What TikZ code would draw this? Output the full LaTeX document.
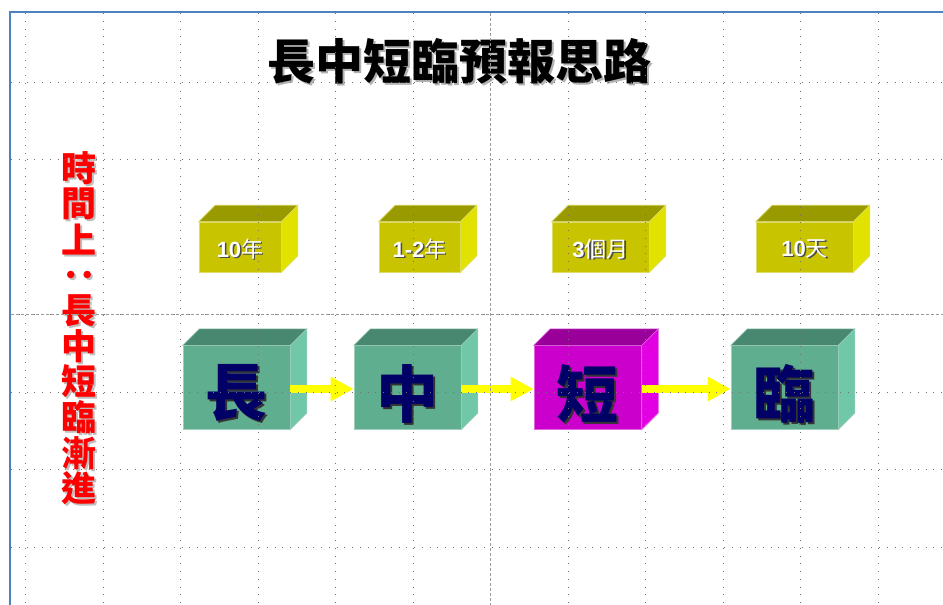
\documentclass[tikz,border=0pt]{standalone}
\usepackage{fontspec}
\setmainfont{Noto Sans CJK TC}
\newfontfamily\lat{Liberation Sans}
\usetikzlibrary{arrows.meta}
\definecolor{olivefront}{RGB}{200,196,0}
\definecolor{olivetop}{RGB}{153,153,0}
\definecolor{oliveside}{RGB}{226,226,0}
\definecolor{tealfront}{RGB}{96,174,144}
\definecolor{tealtop}{RGB}{72,135,112}
\definecolor{tealside}{RGB}{112,200,168}
\definecolor{magfront}{RGB}{204,0,204}
\definecolor{magtop}{RGB}{153,0,153}
\definecolor{magside}{RGB}{226,0,226}
\definecolor{navy}{RGB}{0,0,102}
\definecolor{frameblue}{RGB}{79,129,189}
\definecolor{arrowyellow}{RGB}{255,255,0}
\newcommand\shtext[3]{\leavevmode\rlap{\kern#1\raisebox{-#1}{\textcolor{#2}{#3}}}#3}
% style, name, cx, cy, w, h, colour prefix, text
\newcommand\cubebox[8]{%
  \node[cubefront, fill=#7front, draw=#7front!60!white, minimum width=#5pt, minimum height=#6pt] (#2) at (#3,#4) {};
  \fill[#7top, draw=#7front!60!white, line width=0.6pt] (#2.north west) -- ++(16.5,-16.5) -- ([shift={(16.5,-16.5)}]#2.north east) -- (#2.north east) -- cycle;
  \fill[#7side, draw=#7front!60!white, line width=0.6pt] (#2.north east) -- ++(16.5,-16.5) -- ([shift={(16.5,-16.5)}]#2.south east) -- (#2.south east) -- cycle;
  \node[#1] (#2t) at (#2) {#8};
}
\tikzset{
  cubefront/.style={rectangle, inner sep=0pt, line width=0.6pt},
  yarrow/.style={line width=8pt, arrowyellow, -{Triangle[length=23pt,width=23pt]}},
  gridv/.style={black!55, line width=0.9pt, dash pattern=on 0.9pt off 6.85pt},
  gridh/.style={black!55, line width=0.9pt, dash pattern=on 0.9pt off 6.85pt},
  guide/.style={black!40, line width=0.8pt, dash pattern=on 3pt off 2pt},
  smalllabel/.style={text=white, font=\fontsize{22}{22}\selectfont, yshift=-2.5pt},
  bigchar/.style={text=navy, font=\fontsize{62}{62}\selectfont\bfseries, yshift=-7pt},
  sidechar/.style={text=red, font=\fontsize{35}{35}\selectfont\bfseries, inner sep=0pt},
}
\begin{document}
\begin{tikzpicture}[x=1pt,y=-1pt]
\useasboundingbox (0,0) rectangle (943,605);
\fill[white] (0,0) rectangle (943,605);

% title
\node[font=\fontsize{48}{48}\selectfont\bfseries] (title) at (459,62) {\shtext{2pt}{black!30}{長中短臨預報思路}};

% vertical red text
\foreach \c [count=\i from 0] in {時,間,上,{\rotatebox{-90}{：}},長,中,短,臨,漸,進}{
  \node[sidechar] (v\i) at (79,{169+35.6*\i}) {\shtext{2pt}{black!25}{\c}};
}

% small cubes
\cubebox{smalllabel}{s1}{240}{247}{82}{50}{olive}{\shtext{1.5pt}{black!70}{{\lat\bfseries 10}年}}
\cubebox{smalllabel}{s2}{419.5}{247}{81}{50}{olive}{\shtext{1.5pt}{black!70}{{\lat\bfseries 1-2}年}}
\cubebox{smalllabel}{s3}{600.5}{247}{97}{50}{olive}{\shtext{1.5pt}{black!70}{{\lat\bfseries 3}個月}}
\cubebox{smalllabel}{s4}{804.5}{247}{97}{50}{olive}{\shtext{1.5pt}{black!70}{{\lat\bfseries 10}天}}

% big cubes
\cubebox{bigchar}{b1}{236.5}{387.5}{107}{83.6}{teal}{\shtext{2pt}{black!80}{長}}
\cubebox{bigchar}{b2}{407.5}{387.5}{107}{83.6}{teal}{\shtext{2pt}{black!80}{中}}
\cubebox{bigchar}{b3}{587.75}{387.5}{107.5}{83.6}{mag}{\shtext{2pt}{black!80}{短}}
\cubebox{bigchar}{b4}{784.5}{387.5}{107}{83.6}{teal}{\shtext{2pt}{black!80}{臨}}

% arrows
\draw[yarrow] ([yshift=-1.5pt]b1.east) -- ([yshift=-1.5pt]b2.west);
\draw[yarrow] ([yshift=-1.5pt]b2.east) -- ([yshift=-1.5pt]b3.west);
\draw[yarrow] ([yshift=-1.5pt]b3.east) -- ([yshift=-1.5pt]b4.west);

% grid overlay
\foreach \k in {0,1,2,3,4,5,7,8,9,10,11} {
  \draw[gridv] ({25.8+77.5*\k},13) -- ({25.8+77.5*\k},605);
}
\foreach \k in {0,1,3,4,5,6} {
  \draw[gridh] (11,{82+77.5*\k}) -- (943,{82+77.5*\k});
}
\draw[guide] (490.5,13) -- (490.5,605);
\draw[guide] (11,314.5) -- (943,314.5);

% frame
\draw[frameblue, line width=2pt] (9.7,605) -- (9.7,11.8) -- (943,11.8);
\end{tikzpicture}
\end{document}
